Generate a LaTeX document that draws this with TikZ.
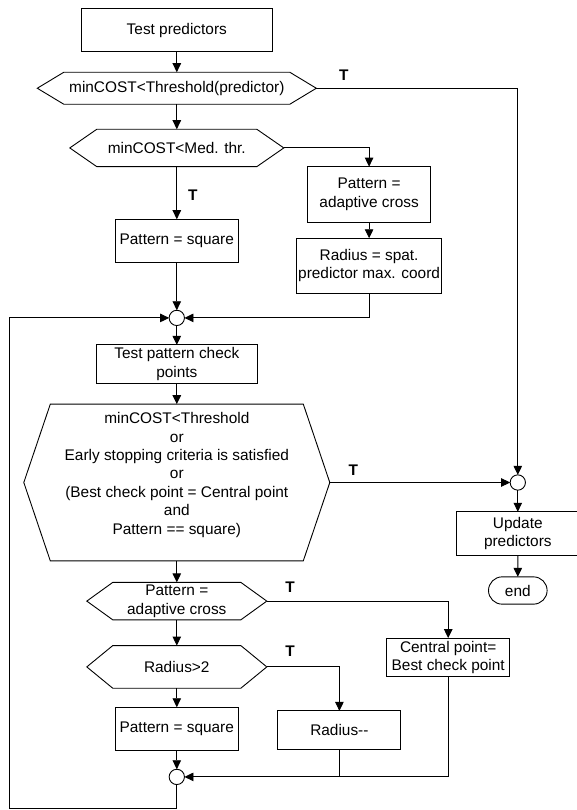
\documentclass[tikz,border=0pt]{standalone}
\usepackage{fontspec}
\setmainfont{Liberation Sans}
\usetikzlibrary{shapes.misc,arrows.meta,positioning}
\newcommand\chartfont{\fontsize{15.4}{18.4}\selectfont}

\begin{document}
\begin{tikzpicture}[
    line width=0.9pt,
    >={Triangle[length=9pt,width=8.5pt]},
    box/.style={rectangle, draw, outer sep=0pt, minimum width=123pt, minimum height=38.3pt, align=center, inner sep=1pt, font=\chartfont},
    cond/.style={rectangle, outer sep=0pt, align=center, inner sep=1pt, font=\chartfont},
    junction/.style={circle, draw, fill=white, outer sep=0pt, minimum size=15.3pt, inner sep=0pt},
    term/.style={rounded rectangle, draw, outer sep=0pt, minimum width=60.6pt, minimum height=27.3pt, inner sep=1pt, font=\chartfont},
    truelabel/.style={font=\chartfont\bfseries, inner sep=0pt},
    arrow/.style={->}
]
\useasboundingbox (0,0) rectangle (576pt,-810pt);

% main column
\node[box, minimum width=191.5pt, minimum height=42.7pt] (tp) at (176.8pt,-30.3pt) {Test predictors};
\node[cond, minimum width=279pt, minimum height=32pt, below=20.6pt of tp] (c1) {minCOST<Threshold(predictor)};
\node[cond, minimum width=214pt, minimum height=37.4pt, below=25pt of c1] (c2) {minCOST<Med. thr.};
\node[box, minimum height=43.4pt, below=52.6pt of c2] (ps1) {Pattern = square};
\node[junction, below=47.6pt of ps1] (j1) {};
\node[box, minimum width=161pt, below=19.3pt of j1] (tpc) {Test pattern check\\points};
\node[cond, minimum width=306pt, minimum height=156.7pt, below=21pt of tpc] (c3) {minCOST<Threshold\\or\\Early stopping criteria is satisfied\\or\\(Best check point = Central point\\and\\Pattern == square)\\\mbox{}};
\node[cond, minimum width=180pt, minimum height=37.5pt, below=21.5pt of c3] (c4) {Pattern =\\adaptive cross};
\node[cond, minimum width=180pt, minimum height=42.7pt, below=25.7pt of c4] (c5) {Radius>2};
\node[box, minimum height=43.4pt, below=19pt of c5] (ps2) {Pattern = square};
\node[junction, below=18.6pt of ps2] (j3) {};

% side branches
\node[box, minimum height=55.6pt, below right=18.7pt and 23.8pt of c2.east] (pac) {Pattern =\\adaptive cross};
\node[box, minimum width=144.8pt, minimum height=55pt, below=16pt of pac] (rad) {Radius = spat.\\predictor max. coord};
\node[junction, right=180.35pt of c3] (j2) {};
\node[box, minimum height=43.3pt, below=21.6pt of j2] (up) {Update\\predictors};
\node[term, below=21.8pt of up] (stop) {end};
\node[box, minimum height=38.4pt, below right=37pt and 119.9pt of c4.east] (cp) {Central point=\\Best check point};
\node[box, below right=44pt and 11.1pt of c5.east] (rm) {Radius-{}-};

% hexagon outlines
\foreach \n/\s in {c1/26.5,c2/27,c3/26.5,c4/26,c5/26}
  \draw (\n.west) -- ([xshift=\s pt]\n.north west) -- ([xshift=-\s pt]\n.north east) -- (\n.east)
    -- ([xshift=-\s pt]\n.south east) -- ([xshift=\s pt]\n.south west) -- cycle;

% true labels
\node[truelabel] (t1) at ([shift={(27.5pt,13.3pt)}]c1.east) {T};
\node[truelabel] (t2) at ([shift={(16pt,-28.3pt)}]c2.south) {T};
\node[truelabel] (t3) at ([shift={(23.4pt,12.7pt)}]c3.east) {T};
\node[truelabel] (t4) at ([shift={(23.2pt,14pt)}]c4.east) {T};
\node[truelabel] (t5) at ([shift={(23.2pt,15.3pt)}]c5.east) {T};

% loop back
\coordinate[below=24.35pt of j3] (bottom);
\coordinate[left=159.35pt of j1] (back);

% arrows
\draw[arrow] (tp) -- (c1);
\draw[arrow] (c1) -- (c2);
\draw[arrow] (c1.east) -| (j2);
\draw[arrow] (c2) -- (ps1);
\draw[arrow] (c2.east) -| (pac);
\draw[arrow] (pac) -- (rad);
\draw[arrow] (ps1) -- (j1);
\draw[arrow] (rad) |- (j1);
\draw[arrow] (j1) -- (tpc);
\draw[arrow] (tpc) -- (c3);
\draw[arrow] (c3) -- (j2);
\draw[arrow] (j2) -- (up);
\draw[arrow] (up) -- (stop);
\draw[arrow] (c3) -- (c4);
\draw[arrow] (c4) -- (c5);
\draw[arrow] (c4.east) -| (cp);
\draw[arrow] (c5) -- (ps2);
\draw[arrow] (c5.east) -| (rm);
\draw[arrow] (ps2) -- (j3);
\draw[arrow] (cp) |- (j3);
\draw (rm) -- (rm |- j3);
\draw[arrow] (j3) -- (bottom) -| (back) -- (j1);

\end{tikzpicture}
\end{document}
